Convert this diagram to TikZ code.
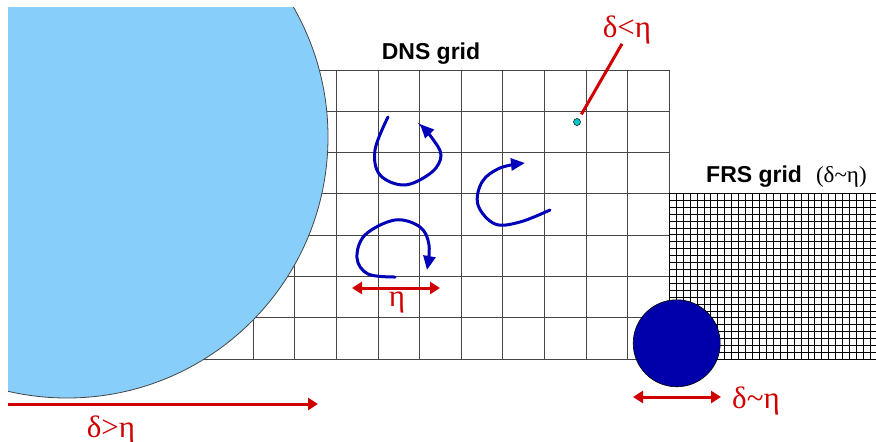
\documentclass[tikz,border=0pt]{standalone}
\usepackage{fontspec}
\setmainfont{Liberation Serif}
\setsansfont{Liberation Sans}
\usetikzlibrary{arrows.meta}
\definecolor{skyfill}{RGB}{135, 206, 250}
\definecolor{discblue}{RGB}{0, 0, 170}
\definecolor{vortexblue}{RGB}{0, 0, 185}
\definecolor{scalered}{RGB}{208, 0, 0}
\definecolor{probecyan}{RGB}{0, 200, 200}
\definecolor{gridgray}{RGB}{70, 70, 70}

\begin{document}
\begin{tikzpicture}[x=1pt, y=-1pt,
    dnsline/.style={draw=gridgray, line width=1pt},
    frsline/.style={draw=black, line width=0.8pt},
    gridlabel/.style={font=\sffamily\bfseries\fontsize{23}{27}\selectfont, inner sep=0pt},
    scalelabel/.style={font=\fontsize{31}{35}\selectfont, text=scalered, inner sep=0pt},
    scalearr/.style={line width=3pt, color=scalered, -{Triangle[length=10pt, width=12pt]}},
    botharr/.style={line width=3pt, color=scalered, {Triangle[length=10pt, width=12pt]}-{Triangle[length=10pt, width=12pt]}},
    vortex/.style={line width=3pt, color=vortexblue, line cap=round, -{Triangle[length=14pt, width=12pt]}}
]
  \useasboundingbox (0,0) rectangle (876,442);

  % DNS grid
  \foreach \j in {0,...,7}
    \draw[dnsline] (150,70+41.33*\j) -- (669.3,70+41.33*\j);
  \foreach \i in {0,...,10}
    \draw[dnsline] (253.3+41.6*\i,70) -- (253.3+41.6*\i,359.3);

  % FRS grid
  \foreach \i in {0,...,30}
    \draw[frsline] (669.3+6.93*\i,193.3) -- (669.3+6.93*\i,359.3);
  \foreach \j in {0,...,24}
    \draw[frsline] (669.3,193.3+6.92*\j) -- (876,193.3+6.92*\j);

  % large body, cut by the frame
  \begin{scope}
    \clip (8,7) rectangle (876,442);
    \filldraw[fill=skyfill, draw=gridgray, line width=0.8pt] (67,137) circle[radius=261pt];
  \end{scope}

  % small particle and probe point
  \node[circle, fill=discblue, draw=black, line width=0.6pt, minimum size=87pt, inner sep=0pt]
    (particle) at (676.7,343.3) {};
  \node[circle, fill=probecyan, draw=black, line width=0.5pt, minimum size=7pt, inner sep=0pt]
    (probe) at (577,122) {};

  % labels
  \node[gridlabel, anchor=base] (dnslabel) at (431,59) {DNS grid};
  \node[gridlabel, anchor=base west] (frslabel) at (706,182)
    {FRS grid\hspace{14pt}{\mdseries\rmfamily\fontsize{23}{26}\selectfont(δ\textasciitilde η)}};
  \node[scalelabel, anchor=base] (smalllabel) at (627,37) {δ<η};
  \node[scalelabel, anchor=base] (biglabel) at (111,437) {δ>η};
  \node[scalelabel, anchor=base] (etalabel) at (397,306) {η};
  \node[scalelabel, anchor=base west] (equallabel) at (732,408) {δ\textasciitilde η};

  % scale arrows
  \coordinate (bodyleft) at (8,404);
  \coordinate (bodyright) at (318,404);
  \coordinate (etaleft) at (352,288);
  \coordinate (etaright) at (440,288);
  \coordinate (partleft) at (633,397);
  \coordinate (partright) at (721,397);
  \draw[scalearr] (bodyleft) -- (bodyright);
  \draw[botharr] (etaleft) -- (etaright);
  \draw[botharr] (partleft) -- (partright);
  \draw[line width=3pt, scalered, shorten >=5pt] ([xshift=-5pt]smalllabel.south) -- (probe);

  % eddies
  \draw[vortex] plot[smooth, tension=0.6] coordinates
    {(388,117) (375,150) (380,175) (405,185) (432,172) (441,155) (432,138) (420,124)};
  \draw[vortex] plot[smooth, tension=0.6] coordinates
    {(550,210) (520,222) (495,224) (478,205) (482,182) (500,168) (525,163)};
  \draw[vortex] plot[smooth, tension=0.6] coordinates
    {(395,277) (368,274) (357,258) (365,235) (395,220) (420,227) (429,245) (427,270)};
\end{tikzpicture}
\end{document}
